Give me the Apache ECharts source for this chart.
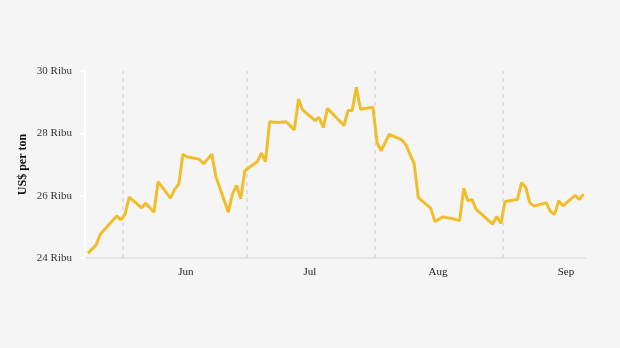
<!DOCTYPE html>
<html>
<head>
<meta charset="utf-8">
<script src="https://cdn.jsdelivr.net/npm/echarts@6/dist/echarts.min.js"></script>
<style>
html,body{margin:0;padding:0;background:#f5f5f5;}
#chart{width:620px;height:348px;}
</style>
</head>
<body>
<div id="chart"></div>
<script>
var dates = ['2025-05-24','2025-05-26','2025-05-27','2025-05-31','2025-06-01','2025-06-02','2025-06-03','2025-06-06','2025-06-07','2025-06-09',
'2025-06-10','2025-06-13','2025-06-14','2025-06-15','2025-06-16','2025-06-17','2025-06-20','2025-06-21','2025-06-22','2025-06-23',
'2025-06-24','2025-06-27','2025-06-28','2025-06-29','2025-06-30','2025-07-01','2025-07-04','2025-07-05','2025-07-06','2025-07-07',
'2025-07-09','2025-07-11','2025-07-13','2025-07-14','2025-07-15','2025-07-18','2025-07-19','2025-07-20','2025-07-21','2025-07-25',
'2025-07-26','2025-07-27','2025-07-28','2025-07-29','2025-08-01','2025-08-02','2025-08-03','2025-08-05','2025-08-08','2025-08-09',
'2025-08-11','2025-08-12','2025-08-15','2025-08-16','2025-08-18','2025-08-20','2025-08-22','2025-08-23','2025-08-24','2025-08-25',
'2025-08-26','2025-08-30','2025-08-31','2025-09-01','2025-09-02','2025-09-05','2025-09-06','2025-09-07','2025-09-08','2025-09-09',
'2025-09-12','2025-09-13','2025-09-14','2025-09-15','2025-09-16','2025-09-19','2025-09-20','2025-09-21'];
var prices = [24.15,24.42,24.76,25.35,25.22,25.41,25.95,25.61,25.76,25.47,
26.45,25.92,26.20,26.37,27.33,27.25,27.17,27.02,27.18,27.33,
26.61,25.47,26.05,26.33,25.90,26.80,27.09,27.36,27.09,28.37,
28.35,28.37,28.11,29.10,28.75,28.41,28.51,28.18,28.80,28.25,
28.73,28.73,29.48,28.77,28.84,27.70,27.44,27.97,27.79,27.63,
27.02,25.94,25.60,25.17,25.32,25.27,25.20,26.24,25.83,25.88,
25.56,25.09,25.33,25.11,25.81,25.88,26.42,26.27,25.77,25.67,
25.77,25.49,25.40,25.84,25.67,26.01,25.88,26.05];
var monthStarts = ['2025-06-01','2025-07-01','2025-08-01','2025-09-01'];
var tickLabels = ['Jun','Jul','Aug','Sep'];
var labelDates = ['2025-06-16','2025-07-16','2025-08-16','2025-09-16'];
var yTicks = [24,26,28,30];

var DAY = 86400000;
var base = Date.UTC(2025,5,1);
function dayNum(s){ var p=s.split('-'); return (Date.UTC(+p[0],+p[1]-1,+p[2]) - base)/DAY; }
var seriesData = dates.map(function(d,i){ return [dayNum(d), prices[i]]; });
var gridDays = monthStarts.map(function(m){ return dayNum(m)+0.5; });
var labelDays = labelDates.map(function(m){ return dayNum(m)+0.75; });

var font = '"Liberation Serif", "DejaVu Serif", serif';
var chart = echarts.init(document.getElementById('chart'));
chart.setOption({
  backgroundColor:'#f5f5f5',
  animation:false,
  grid:{left:85,right:35,top:71,bottom:90},
  xAxis:{
    type:'value',
    min: -8.7,
    max: 112.36,
    axisLine:{show:true,onZero:false,lineStyle:{color:'#e3e3e3',width:2}},
    axisTick:{show:false},
    splitLine:{show:false},
    axisLabel:{
      customValues: labelDays,
      margin:9,
      color:'#222',
      fontFamily:font,
      fontSize:11,
      formatter:function(v){
        var best=0,bd=Infinity;
        for(var i=0;i<labelDays.length;i++){var dd=Math.abs(labelDays[i]-v); if(dd<bd){bd=dd;best=i;}}
        return tickLabels[best];
      }
    }
  },
  yAxis:{
    type:'value',
    min:24,max:30,interval:2,
    name:'US$ per ton',
    nameLocation:'middle',
    nameGap:56,
    nameMoveOverlap:false,
    nameRotate:90,
    nameTextStyle:{fontFamily:font,fontSize:12,fontWeight:'bold',color:'#111'},
    axisLine:{show:true,onZero:false,lineStyle:{color:'#ffffff',width:2}},
    axisTick:{show:true,length:5,lineStyle:{color:'#ffffff',width:2}},
    splitLine:{show:false},
    axisLabel:{
      margin:13,
      padding:[2,0,0,0],
      color:'#333',
      fontFamily:font,
      fontSize:11,
      formatter:function(v){ return yTicks.indexOf(v)>=0 ? v+' Ribu' : ''; }
    }
  },
  series:[{
    type:'line',
    data:[],
    z:1,
    markLine:{
      silent:true,
      symbol:['none','none'],
      label:{show:false},
      lineStyle:{type:[4,4],color:'#d8d8d8',width:1.5},
      data: gridDays.map(function(m){ return {xAxis: m}; })
    }
  },{
    type:'line',
    data:seriesData,
    showSymbol:false,
    symbol:'none',
    lineStyle:{color:'#f1be2b',width:3},
    z:5
  }]
});
</script>
</body>
</html>
